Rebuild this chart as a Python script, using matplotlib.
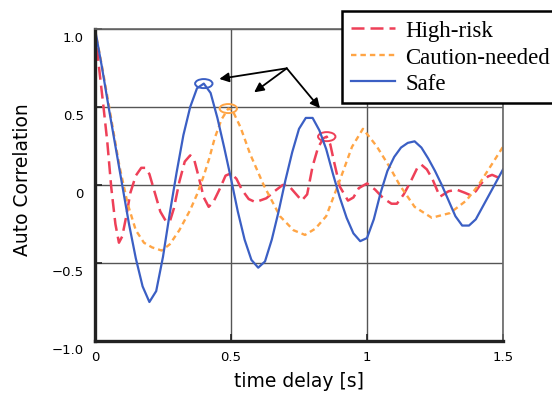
import matplotlib.pyplot as plt
from matplotlib.patches import Ellipse
import matplotlib.transforms as mtransforms

# Auto-correlation curves, values
safe_t = [0.000, 0.025, 0.050, 0.075, 0.100, 0.125, 0.150, 0.175, 0.200, 0.225,
          0.250, 0.275, 0.300, 0.325, 0.350, 0.375, 0.400, 0.425, 0.450, 0.475,
          0.500, 0.525, 0.550, 0.575, 0.600, 0.625, 0.650, 0.675, 0.700, 0.725,
          0.750, 0.775, 0.800, 0.825, 0.850, 0.875, 0.900, 0.925, 0.950, 0.975,
          1.000, 1.025, 1.050, 1.075, 1.100, 1.125, 1.150, 1.175, 1.200, 1.225,
          1.250, 1.275, 1.300, 1.325, 1.350, 1.375, 1.400, 1.425, 1.450, 1.475, 1.500]
safe_v = [1.00, 0.76, 0.50, 0.25, 0.00, -0.25, -0.47, -0.65, -0.75, -0.68,
          -0.46, -0.18, 0.08, 0.32, 0.50, 0.62, 0.65, 0.59, 0.43, 0.24,
          0.04, -0.17, -0.35, -0.48, -0.53, -0.49, -0.35, -0.17, 0.03, 0.21,
          0.36, 0.43, 0.43, 0.35, 0.23, 0.07, -0.08, -0.21, -0.31, -0.36,
          -0.34, -0.22, -0.05, 0.09, 0.18, 0.24, 0.27, 0.28, 0.24, 0.17,
          0.09, 0.00, -0.10, -0.20, -0.26, -0.26, -0.22, -0.14, -0.06, 0.02, 0.10]

high_t = [0.000, 0.015, 0.030, 0.045, 0.060, 0.075, 0.088, 0.100, 0.115, 0.130,
          0.150, 0.170, 0.185, 0.200, 0.220, 0.240, 0.260, 0.275, 0.290, 0.310,
          0.330, 0.350, 0.365, 0.380, 0.400, 0.418, 0.435, 0.460, 0.480, 0.500,
          0.520, 0.540, 0.565, 0.590, 0.630, 0.660, 0.690, 0.710, 0.730, 0.760,
          0.780, 0.800, 0.820, 0.840, 0.852, 0.865, 0.880, 0.900, 0.930, 0.950,
          0.970, 1.000, 1.030, 1.060, 1.090, 1.110, 1.135, 1.160, 1.185, 1.200,
          1.220, 1.240, 1.268, 1.300, 1.330, 1.360, 1.380, 1.400, 1.420, 1.445,
          1.460, 1.480, 1.500]
high_v = [1.00, 0.75, 0.52, 0.28, -0.02, -0.25, -0.37, -0.33, -0.20, -0.05,
          0.06, 0.11, 0.11, 0.07, -0.05, -0.17, -0.23, -0.235, -0.15, 0.02,
          0.15, 0.19, 0.16, 0.06, -0.08, -0.14, -0.11, -0.02, 0.06, 0.075,
          0.04, -0.03, -0.09, -0.11, -0.085, -0.04, 0.00, 0.00, -0.04, -0.10,
          -0.06, 0.12, 0.24, 0.30, 0.31, 0.26, 0.14, -0.01, -0.10, -0.08,
          -0.02, 0.01, -0.03, -0.085, -0.12, -0.12, -0.06, 0.02, 0.11, 0.13,
          0.10, 0.04, -0.075, -0.04, -0.03, -0.05, -0.065, -0.04, 0.01, 0.055,
          0.065, 0.05, 0.02]

caution_t = [0.000, 0.030, 0.060, 0.090, 0.120, 0.150, 0.180, 0.210, 0.245, 0.275,
             0.310, 0.350, 0.375, 0.400, 0.420, 0.440, 0.465, 0.490, 0.505, 0.535,
             0.570, 0.620, 0.680, 0.730, 0.772, 0.810, 0.850, 0.900, 0.945, 0.985,
             1.035, 1.085, 1.120, 1.175, 1.238, 1.305, 1.365, 1.410, 1.458, 1.500]
caution_v = [1.00, 0.72, 0.42, 0.12, -0.12, -0.29, -0.37, -0.40, -0.42, -0.38,
             -0.29, -0.16, -0.06, 0.06, 0.17, 0.30, 0.42, 0.49, 0.48, 0.37,
             0.20, 0.00, -0.20, -0.29, -0.32, -0.28, -0.20, 0.03, 0.245, 0.36,
             0.25, 0.11, 0.00, -0.14, -0.21, -0.18, -0.10, 0.00, 0.13, 0.245]

labels = ['High-risk', 'Caution-needed', 'Safe']
colors = ['#ee4058', '#ffa545', '#3b5fc4']

xticks = [0, 0.5, 1, 1.5]
xticklabels = ['0', '0.5', '1', '1.5']
yticks = [-1.0, -0.5, 0, 0.5, 1.0]
yticklabels = ['\u22121.0', '\u22120.5', '0', '0.5', '1.0']

# arrows: common tail and three heads (data coords)
arrow_tail = (0.705, 0.748)
arrow_heads = [(0.457, 0.680), (0.585, 0.594), (0.827, 0.492)]

fig = plt.figure(figsize=(5.52, 4.02), dpi=100)
ax = fig.add_axes([95 / 552, 60 / 402, 408 / 552, 312 / 402])

ax.plot(high_t, high_v, color=colors[0], lw=1.8, dashes=(5.2, 2.4), label=labels[0])
ax.plot(caution_t, caution_v, color=colors[1], lw=1.7, dashes=(2.3, 1.7), label=labels[1])
ax.plot(safe_t, safe_v, color=colors[2], lw=1.6, label=labels[2])

# circle the marked peaks (max after the first lag of each curve)
for ts, vs, c in [(safe_t, safe_v, colors[2]), (caution_t, caution_v, colors[1]),
                  (high_t, high_v, colors[0])]:
    pairs = [(t, v) for t, v in zip(ts, vs) if t > 0.3]
    pt, pv = max(pairs, key=lambda p: p[1])
    ax.add_patch(Ellipse((pt, pv), 0.064, 0.058, fill=False, edgecolor=c, lw=1.4))

for head in arrow_heads:
    ax.annotate('', xy=head, xytext=arrow_tail,
                arrowprops=dict(arrowstyle='-|>', color='black', lw=1.3,
                                mutation_scale=14, shrinkA=0, shrinkB=0))

ax.set_xlim(0, 1.5)
ax.set_ylim(-1.0, 1.0)
ax.set_xticks(xticks, xticklabels)
ax.set_yticks(yticks, yticklabels)
ax.tick_params(direction='in', length=5, width=1.2, color='#222222', labelsize=9.5)
ax.tick_params(axis='y', pad=8)
ax.tick_params(axis='x', pad=6.5)

# shift y tick labels slightly down like the original
off = mtransforms.ScaledTranslation(0, -5 / 72, fig.dpi_scale_trans)
for lab in ax.get_yticklabels():
    lab.set_transform(lab.get_transform() + off)

ax.grid(True, color='#555555', lw=1.0)
ax.set_axisbelow(True)
for side in ['left', 'bottom']:
    ax.spines[side].set_linewidth(2.4)
    ax.spines[side].set_color('#222222')
for side in ['top', 'right']:
    ax.spines[side].set_linewidth(1.2)
    ax.spines[side].set_color('#666666')

ax.set_xlabel('time delay [s]', fontsize=13.5)
ax.set_ylabel('Auto Correlation', fontsize=13.5)
ax.xaxis.set_label_coords(0.5, -0.095)
ax.yaxis.set_label_coords(-0.155, 0.52)

leg = ax.legend(loc='upper left', bbox_to_anchor=(342 / 552, 1 - 12 / 402),
                bbox_transform=fig.transFigure, prop={'family': 'Liberation Serif', 'size': 16.5},
                fancybox=False, edgecolor='black', framealpha=1, borderpad=0.4,
                labelspacing=0.24, handlelength=1.9, handletextpad=0.45, borderaxespad=0)
leg.get_frame().set_linewidth(1.8)

fig.savefig('out.png', dpi=100)
